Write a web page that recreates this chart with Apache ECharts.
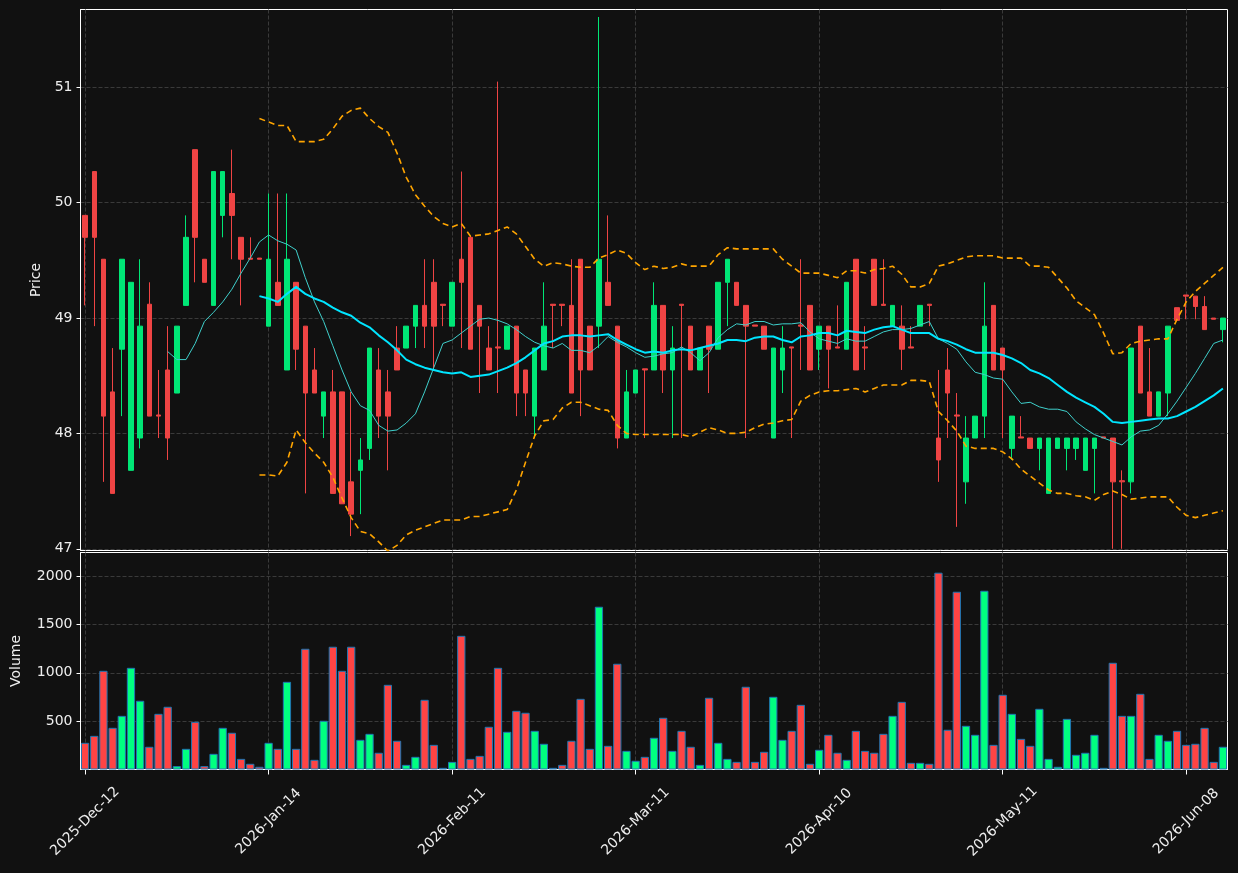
<!DOCTYPE html>
<html>
<head>
<meta charset="utf-8">
<title>Price / Volume</title>
<script src="https://cdn.jsdelivr.net/npm/echarts@6/dist/echarts.min.js"></script>
<style>
  html, body { margin: 0; padding: 0; background: #111111; }
  #myChart { width: 1238px; height: 873px; }
</style>
</head>
<body>
<div id="myChart"></div>
<script>
// trading days (category axis)
const dates = [
  '2025-12-12','2025-12-15','2025-12-16','2025-12-17','2025-12-18','2025-12-19','2025-12-22','2025-12-23','2025-12-24','2025-12-29',
  '2025-12-30','2025-12-31','2026-01-02','2026-01-05','2026-01-06','2026-01-07','2026-01-08','2026-01-09','2026-01-12','2026-01-13',
  '2026-01-14','2026-01-15','2026-01-16','2026-01-19','2026-01-20','2026-01-21','2026-01-22','2026-01-23','2026-01-26','2026-01-27',
  '2026-01-28','2026-01-29','2026-01-30','2026-02-02','2026-02-03','2026-02-04','2026-02-05','2026-02-06','2026-02-09','2026-02-10',
  '2026-02-11','2026-02-12','2026-02-13','2026-02-16','2026-02-17','2026-02-18','2026-02-19','2026-02-20','2026-02-23','2026-02-24',
  '2026-02-25','2026-02-26','2026-02-27','2026-03-02','2026-03-03','2026-03-04','2026-03-05','2026-03-06','2026-03-09','2026-03-10',
  '2026-03-11','2026-03-12','2026-03-13','2026-03-16','2026-03-17','2026-03-18','2026-03-19','2026-03-20','2026-03-23','2026-03-24',
  '2026-03-25','2026-03-26','2026-03-27','2026-03-30','2026-03-31','2026-04-01','2026-04-02','2026-04-07','2026-04-08','2026-04-09',
  '2026-04-10','2026-04-13','2026-04-14','2026-04-15','2026-04-16','2026-04-17','2026-04-20','2026-04-21','2026-04-22','2026-04-23',
  '2026-04-24','2026-04-27','2026-04-28','2026-04-29','2026-04-30','2026-05-04','2026-05-05','2026-05-06','2026-05-07','2026-05-08',
  '2026-05-11','2026-05-12','2026-05-13','2026-05-14','2026-05-15','2026-05-18','2026-05-19','2026-05-20','2026-05-21','2026-05-22',
  '2026-05-25','2026-05-26','2026-05-27','2026-05-28','2026-05-29','2026-06-01','2026-06-02','2026-06-03','2026-06-04','2026-06-05',
  '2026-06-08','2026-06-09','2026-06-10','2026-06-11','2026-06-12'
];

const opens = [
  49.89,50.27,49.51,48.36,48.73,47.68,47.96,49.12,48.16,48.55, 48.35,49.11,50.46,49.51,49.11,49.89,50.08,49.70,49.52,49.52,
  48.93,49.31,48.55,49.31,48.93,48.55,48.15,48.36,48.36,47.58, 47.68,47.87,48.55,48.36,48.74,48.74,48.93,49.11,49.31,49.12,
  48.93,49.51,49.70,49.11,48.74,48.75,48.73,48.93,48.55,48.15, 48.55,49.12,49.12,49.11,49.51,48.93,48.93,49.31,48.93,47.96,
  48.35,48.56,48.55,49.11,48.55,49.12,48.93,48.55,48.93,48.73, 49.31,49.31,49.11,48.94,48.93,47.96,48.55,48.75,48.94,49.11,
  48.73,48.93,48.75,48.73,49.51,48.75,49.51,49.12,48.93,48.93, 48.75,48.93,49.12,47.96,48.55,48.16,47.58,47.96,48.15,49.11,
  48.74,47.87,47.97,47.96,47.87,47.48,47.87,47.87,47.87,47.68, 47.87,47.97,47.96,47.59,47.58,48.93,48.36,48.15,48.35,49.09,
  49.20,49.19,49.10,49.00,48.90
];
const closes = [
  49.70,49.70,48.15,47.48,49.51,49.31,48.93,48.15,48.15,47.96, 48.93,49.70,49.70,49.31,50.27,50.27,49.89,49.51,49.51,49.51,
  49.51,49.11,49.51,48.73,48.35,48.35,48.36,47.48,47.39,47.30, 47.77,48.74,48.15,48.15,48.55,48.93,49.11,48.93,48.93,49.11,
  49.31,49.31,48.73,48.93,48.55,48.74,48.93,48.35,48.35,48.74, 48.93,49.11,49.11,48.35,48.55,48.55,49.51,49.11,47.96,48.36,
  48.55,48.55,49.11,48.55,48.74,49.11,48.55,48.74,48.73,49.31, 49.51,49.11,48.93,48.93,48.73,48.74,48.74,48.74,48.93,48.55,
  48.93,48.73,48.74,49.31,48.55,48.74,49.11,49.11,49.11,48.73, 48.74,49.11,49.11,47.77,48.35,48.15,47.96,48.15,48.93,48.55,
  48.55,48.15,47.96,47.87,47.96,47.96,47.96,47.96,47.96,47.96, 47.96,47.96,47.58,47.58,48.74,48.35,48.15,48.36,48.93,48.98,
  49.19,49.10,48.90,48.99,49.00
];
const lows = [
  49.11,48.93,47.58,47.48,48.15,47.68,47.87,48.15,47.96,47.77, 48.35,49.11,49.31,49.31,49.11,49.70,49.51,49.11,49.51,49.51,
  48.93,49.11,48.55,48.55,47.48,48.35,47.96,47.48,47.39,47.11, 47.30,47.77,47.96,47.68,48.55,48.74,48.74,48.74,48.55,48.93,
  48.93,48.74,48.73,48.35,48.55,48.35,48.73,48.15,48.15,47.96, 48.55,48.74,48.93,48.35,48.15,48.55,48.74,49.11,47.87,47.96,
  48.35,47.96,48.55,48.35,47.96,47.96,48.55,48.55,48.35,48.73, 48.93,49.11,47.96,48.93,48.73,47.96,48.35,47.96,48.55,48.55,
  48.55,48.39,48.74,48.73,48.55,48.55,49.11,49.11,48.93,48.55, 48.74,48.93,48.93,47.58,47.96,47.19,47.39,47.96,47.96,48.55,
  47.96,47.77,47.96,47.87,47.68,47.48,47.87,47.68,47.77,47.68, 47.48,47.96,47.00,47.00,47.48,48.35,48.15,48.15,48.15,48.98,
  48.99,48.99,48.90,48.99,48.79
];
const highs = [
  49.89,50.27,49.51,48.74,49.51,49.31,49.51,49.31,48.55,48.93, 48.93,49.89,50.46,49.51,50.27,50.27,50.46,49.70,49.70,49.52,
  50.08,50.08,50.08,49.31,48.93,48.74,48.36,48.55,48.36,48.36, 47.96,48.74,48.74,48.55,48.93,48.93,49.11,49.51,49.51,49.12,
  49.31,50.27,49.70,49.11,48.93,51.05,48.93,48.93,48.55,48.74, 49.31,49.12,49.12,49.51,49.51,48.93,51.61,49.89,48.93,48.55,
  48.55,48.56,49.31,49.11,48.93,49.12,48.93,48.74,48.93,49.31, 49.51,49.31,49.11,48.94,48.93,48.74,48.93,48.75,49.51,49.11,
  48.93,48.93,49.11,49.31,49.51,48.93,49.51,49.51,49.11,49.11, 48.93,49.11,49.12,48.55,48.74,48.35,48.15,48.15,49.31,49.11,
  48.74,48.15,48.15,47.96,47.96,47.96,47.96,47.96,47.96,47.96, 47.96,47.97,47.96,47.68,48.74,48.93,48.74,48.36,48.93,49.09,
  49.20,49.19,49.19,49.00,49.00
];

const volumes = [
  276,348,1021,431,555,1052,711,235,576,649, 35,214,493,35,162,431,380,110,59,28,
  276,214,907,214,1249,100,504,1270,1021,1270, 307,369,173,876,297,48,131,721,255,17,
  79,1383,110,141,442,1052,390,607,587,400, 266,17,48,297,731,214,1684,245,1094,193,
  90,131,328,535,193,400,235,48,742,276, 110,79,856,79,183,752,307,400,669,59,
  204,359,173,100,400,193,173,369,555,700, 69,69,59,2036,411,1839,452,359,1849,255,
  773,576,317,245,628,110,28,524,152,173, 359,17,1104,555,555,783,110,359,297,400,
  255,266,431,79,235
];

// moving averages and bands
const ma10 = [
  null,null,null,null,null,null,null,null,null,48.71, 48.64,48.64,48.78,48.97,49.05,49.14,49.25,49.39,49.52,49.66,
  49.72,49.67,49.64,49.59,49.35,49.14,48.97,48.76,48.55,48.36, 48.24,48.20,48.07,48.02,48.03,48.09,48.17,48.36,48.57,48.78,
  48.81,48.87,48.93,48.99,49.00,48.98,48.95,48.90,48.84,48.79, 48.76,48.74,48.78,48.72,48.72,48.70,48.76,48.84,48.79,48.75,
  48.70,48.66,48.67,48.69,48.70,48.75,48.70,48.63,48.70,48.83, 48.90,48.95,48.94,48.97,48.97,48.94,48.95,48.95,48.96,48.88,
  48.82,48.80,48.78,48.82,48.80,48.80,48.84,48.88,48.90,48.90, 48.91,48.94,48.97,48.82,48.78,48.73,48.62,48.53,48.51,48.48,
  48.47,48.36,48.26,48.27,48.23,48.21,48.21,48.19,48.10,48.04, 47.99,47.96,47.93,47.90,47.97,48.02,48.03,48.07,48.17,48.28,
  48.40,48.52,48.65,48.78,48.81
];
const ma20 = [
  null,null,null,null,null,null,null,null,null,null, null,null,null,null,null,null,null,null,null,49.19,
  49.17,49.14,49.21,49.27,49.21,49.17,49.14,49.09,49.05,49.02, 48.96,48.92,48.85,48.79,48.72,48.64,48.60,48.57,48.55,48.53,
  48.52,48.53,48.49,48.50,48.51,48.54,48.57,48.61,48.66,48.72, 48.78,48.80,48.84,48.85,48.85,48.84,48.85,48.86,48.81,48.77,
  48.73,48.70,48.71,48.70,48.72,48.73,48.72,48.74,48.76,48.78, 48.81,48.81,48.80,48.83,48.84,48.84,48.81,48.79,48.84,48.85,
  48.87,48.87,48.85,48.89,48.88,48.87,48.90,48.92,48.93,48.90, 48.87,48.87,48.87,48.82,48.80,48.77,48.73,48.70,48.70,48.70,
  48.68,48.65,48.61,48.55,48.52,48.48,48.42,48.36,48.31,48.27, 48.23,48.17,48.10,48.09,48.10,48.11,48.12,48.13,48.13,48.15,
  48.19,48.23,48.28,48.33,48.39
];
const bollUpper = [
  null,null,null,null,null,null,null,null,null,null, null,null,null,null,null,null,null,null,null,50.73,
  50.70,50.67,50.67,50.53,50.53,50.53,50.55,50.64,50.75,50.80, 50.82,50.73,50.66,50.61,50.43,50.22,50.07,49.97,49.88,49.82,
  49.79,49.82,49.71,49.72,49.73,49.76,49.79,49.73,49.62,49.51, 49.45,49.48,49.47,49.45,49.44,49.44,49.52,49.55,49.59,49.56,
  49.48,49.42,49.45,49.43,49.44,49.47,49.45,49.45,49.45,49.55, 49.61,49.60,49.60,49.60,49.60,49.60,49.51,49.45,49.39,49.39,
  49.39,49.37,49.35,49.41,49.41,49.39,49.42,49.43,49.45,49.38, 49.27,49.27,49.30,49.45,49.47,49.50,49.53,49.54,49.54,49.54,
  49.52,49.52,49.52,49.45,49.45,49.44,49.35,49.26,49.15,49.09, 49.03,48.87,48.69,48.70,48.78,48.80,48.81,48.82,48.82,48.99,
  49.14,49.23,49.30,49.37,49.44
];
const bollLower = [
  null,null,null,null,null,null,null,null,null,null, null,null,null,null,null,null,null,null,null,47.64,
  47.64,47.63,47.75,48.03,47.92,47.83,47.75,47.62,47.44,47.27, 47.15,47.13,47.06,46.98,47.03,47.12,47.16,47.19,47.22,47.25,
  47.25,47.25,47.28,47.28,47.30,47.32,47.34,47.51,47.75,47.98, 48.11,48.12,48.22,48.27,48.27,48.24,48.21,48.20,48.07,48.00,
  47.99,47.99,47.99,47.99,47.99,47.99,47.97,48.01,48.05,48.03, 48.00,48.00,48.01,48.05,48.08,48.09,48.11,48.12,48.28,48.33,
  48.36,48.37,48.37,48.38,48.39,48.36,48.39,48.42,48.42,48.42, 48.46,48.46,48.45,48.19,48.11,48.02,47.89,47.87,47.87,47.87,
  47.84,47.78,47.69,47.63,47.57,47.51,47.48,47.48,47.46,47.45, 47.42,47.47,47.50,47.47,47.43,47.44,47.45,47.45,47.45,47.36,
  47.29,47.27,47.29,47.31,47.33
];

// tick labels shown on the two value axes
const priceTicks = [47, 48, 49, 50, 51];
const volumeTicks = [500, 1000, 1500, 2000];

const MONTHS = ['Jan','Feb','Mar','Apr','May','Jun','Jul','Aug','Sep','Oct','Nov','Dec'];
const upColor = '#00e676';
const downColor = '#ef4444';
const volUp = '#00ff80';
const volDown = '#ff4444';
const gridLine = { show: true, interval: 19, alignWithLabel: true, lineStyle: { color: '#3a3a3a', type: 'dashed', width: 1 } };
const labelText = { color: '#eeeeee', fontSize: 14, fontFamily: 'DejaVu Sans' };

function fmtDate (d) {
  const p = d.split('-');
  return p[0] + '-' + MONTHS[+p[1] - 1] + '-' + p[2];
}

const candles = dates.map((d, i) => [opens[i], closes[i], lows[i], highs[i]]);
const volBars = volumes.map((v, i) => ({
  value: v,
  itemStyle: { color: closes[i] >= opens[i] ? volUp : volDown }
}));

let myChart = echarts.init(document.getElementById('myChart'));
myChart.setOption({
  animation: false,
  backgroundColor: '#111111',
  // half-pixel offsets keep the 1px white frames crisp
  grid: [
    { left: 80.5, right: 10.5, top: 9.5, height: 541, show: true, borderColor: '#ffffff', borderWidth: 1,
      backgroundColor: 'transparent', containLabel: false, outerBoundsMode: 'none' },
    { left: 80.5, right: 10.5, top: 552.5, height: 217, show: true, borderColor: '#ffffff', borderWidth: 1,
      backgroundColor: 'transparent', containLabel: false, outerBoundsMode: 'none' }
  ],
  xAxis: [
    {
      type: 'category', gridIndex: 0, data: dates, boundaryGap: true,
      axisLine: { show: false }, axisTick: { show: false }, axisLabel: { show: false },
      splitLine: gridLine
    },
    {
      type: 'category', gridIndex: 1, data: dates, boundaryGap: true,
      axisLine: { show: true, lineStyle: { color: '#ffffff' } },
      axisTick: { show: true, interval: 19, alignWithLabel: true, length: 5, lineStyle: { color: '#ffffff' } },
      axisLabel: Object.assign({
        interval: 19, rotate: 45, margin: 52, align: 'center', verticalAlign: 'middle', formatter: fmtDate
      }, labelText),
      splitLine: gridLine
    }
  ],
  yAxis: [
    {
      type: 'value', gridIndex: 0, min: 46.985, max: 51.675, scale: true,
      name: 'Price', nameLocation: 'middle', nameGap: 36, nameTextStyle: labelText,
      axisLine: { show: true, lineStyle: { color: '#ffffff' } },
      axisTick: { show: true, length: 4, customValues: priceTicks, lineStyle: { color: '#ffffff' } },
      axisLabel: Object.assign({ margin: 8, customValues: priceTicks, formatter: v => String(v) }, labelText),
      splitLine: { show: true, lineStyle: { color: '#3a3a3a', type: 'dashed' } }
    },
    {
      type: 'value', gridIndex: 1, min: 0, max: 2245, interval: 500,
      name: 'Volume', nameLocation: 'middle', nameGap: 57, nameTextStyle: labelText,
      axisLine: { show: true, lineStyle: { color: '#ffffff' } },
      axisTick: { show: true, length: 4, customValues: volumeTicks, lineStyle: { color: '#ffffff' } },
      axisLabel: Object.assign({ margin: 8, customValues: volumeTicks, formatter: v => String(v) }, labelText),
      splitLine: { show: true, lineStyle: { color: '#3a3a3a', type: 'dashed' } }
    }
  ],
  series: [
    {
      name: 'OHLC', type: 'candlestick', xAxisIndex: 0, yAxisIndex: 0,
      data: candles, barWidth: 5,
      itemStyle: { color: upColor, color0: downColor, borderColor: upColor, borderColor0: downColor, borderWidth: 1 }
    },
    {
      name: 'MA10', type: 'line', xAxisIndex: 0, yAxisIndex: 0, data: ma10,
      showSymbol: false, lineStyle: { color: '#3fd0cc', width: 1 }
    },
    {
      name: 'MA20', type: 'line', xAxisIndex: 0, yAxisIndex: 0, data: ma20,
      showSymbol: false, lineStyle: { color: '#00e5ff', width: 2 }
    },
    {
      name: 'Upper', type: 'line', xAxisIndex: 0, yAxisIndex: 0, data: bollUpper,
      showSymbol: false, lineStyle: { color: '#ffa500', width: 1.6, type: [6, 4] }
    },
    {
      name: 'Lower', type: 'line', xAxisIndex: 0, yAxisIndex: 0, data: bollLower,
      showSymbol: false, lineStyle: { color: '#ffa500', width: 1.6, type: [6, 4] }
    },
    {
      name: 'Volume', type: 'bar', xAxisIndex: 1, yAxisIndex: 1, data: volBars,
      barWidth: '90%',
      itemStyle: { borderColor: '#1f77b4', borderWidth: 1 }
    }
  ]
});
</script>
</body>
</html>
